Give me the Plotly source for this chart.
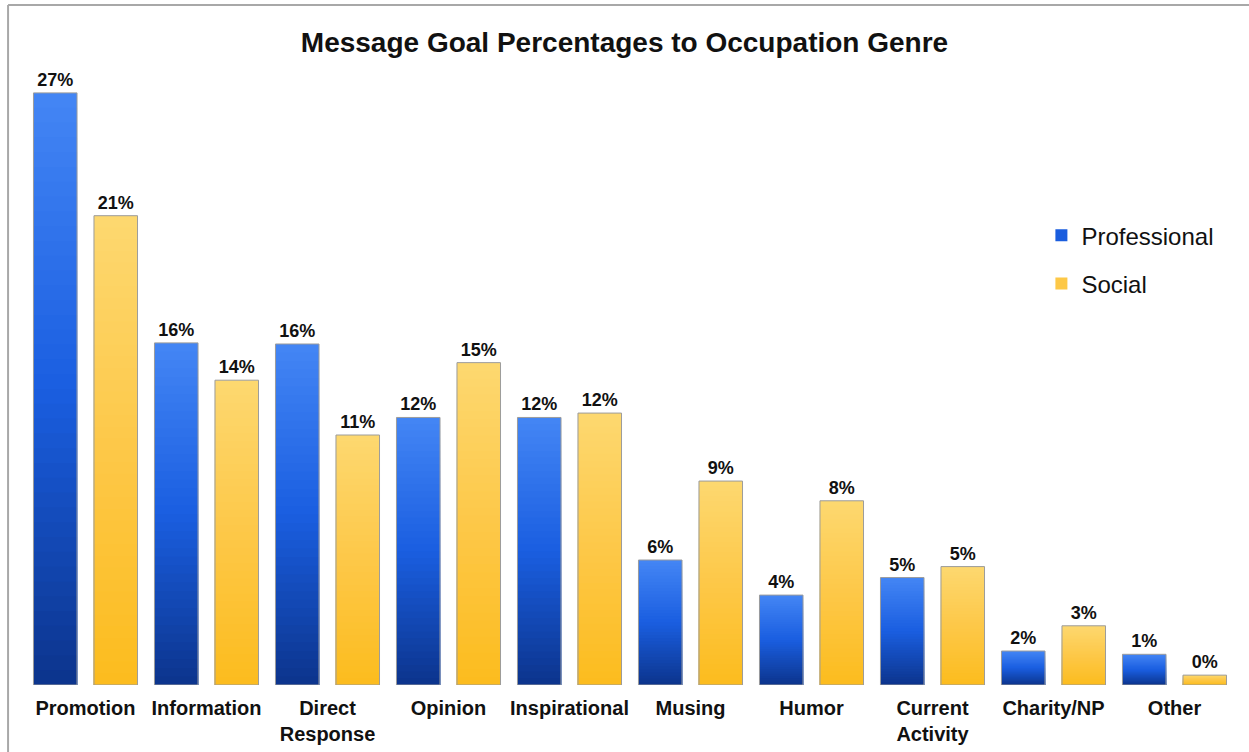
import plotly.graph_objects as go

# Message goal shares (%) for each occupation genre
CATEGORIES = ["Promotion", "Information", "Direct Response", "Opinion", "Inspirational",
              "Musing", "Humor", "Current Activity", "Charity/NP", "Other"]
TICK_LABELS = ["Promotion", "Information", "Direct<br>Response", "Opinion", "Inspirational",
               "Musing", "Humor", "Current<br>Activity", "Charity/NP", "Other"]
PROFESSIONAL = [27.0, 15.6, 15.55, 12.2, 12.2, 5.7, 4.1, 4.9, 1.55, 1.4]
SOCIAL = [21.4, 13.9, 11.4, 14.7, 12.4, 9.3, 8.4, 5.4, 2.7, 0.45]

FONT = "Liberation Sans, Arial, Helvetica, sans-serif"
N_BANDS = 40

# gradient stops from the bottom (0) to the top (1) of each bar
BLUE_STOPS = [(0.0, (12, 52, 140)), (0.5, (26, 94, 224)), (1.0, (68, 134, 245))]
GOLD_STOPS = [(0.0, (252, 188, 30)), (0.5, (253, 200, 72)), (1.0, (253, 216, 112))]


def blend(stops, f):
    for (f0, c0), (f1, c1) in zip(stops[:-1], stops[1:]):
        if f <= f1:
            t = (f - f0) / (f1 - f0)
            return "rgb({},{},{})".format(*[round(a + (b - a) * t) for a, b in zip(c0, c1)])
    return "rgb({},{},{})".format(*stops[-1][1])


fig = go.Figure()

series = [("Professional", PROFESSIONAL, BLUE_STOPS, "pro"),
          ("Social", SOCIAL, GOLD_STOPS, "soc")]

# gradient fill: nested bars from the full height down, each shorter one
# drawn over the previous, so every bar shades from light (top) to dark (bottom)
for name, values, stops, group in series:
    for k in range(N_BANDS):
        frac_top = (N_BANDS - k) / N_BANDS
        f = (N_BANDS - k - 0.5) / N_BANDS
        is_legend = k == N_BANDS // 2
        fig.add_trace(go.Bar(
            x=CATEGORIES,
            y=[v * frac_top for v in values],
            offsetgroup=group,
            marker=dict(color=blend(stops, f), line=dict(width=0)),
            name=name,
            showlegend=is_legend,
            legendgroup=group if is_legend else None,
            hoverinfo="skip",
        ))

# outlines and value labels on top of the gradient
for name, values, stops, group in series:
    fig.add_trace(go.Bar(
        x=CATEGORIES,
        y=values,
        offsetgroup=group,
        marker=dict(color="rgba(0,0,0,0)", line=dict(color="#9c9c9c", width=1)),
        texttemplate="%{y:.0f}%",
        textposition="outside",
        constraintext="none",
        cliponaxis=False,
        textfont=dict(family=FONT, size=18, color="#111111", weight="bold"),
        name=name,
        showlegend=False,
    ))

fig.update_layout(
    width=1249, height=752,
    margin=dict(l=25, r=14, t=60, b=67),
    paper_bgcolor="white", plot_bgcolor="white",
    barmode="group", bargap=0.0, bargroupgap=0.28,
    font=dict(family=FONT, color="#111111"),
    title=dict(text="Message Goal Percentages to Occupation Genre",
               x=0.5, xanchor="center", y=1 - 42 / 752, yanchor="middle",
               font=dict(family=FONT, size=28, color="#111111", weight="bold")),
    legend=dict(x=0.84, y=0.755, xanchor="left", yanchor="top",
                traceorder="grouped", tracegroupgap=14,
                font=dict(family=FONT, size=24, color="#111111"),
                bgcolor="rgba(0,0,0,0)"),
    xaxis=dict(tickvals=CATEGORIES, ticktext=TICK_LABELS, range=[-0.5, 9.5],
               showline=False, showgrid=False, ticks="", ticklabelstandoff=9,
               automargin=False,
               tickfont=dict(family=FONT, size=20, color="#111111", weight="bold")),
    yaxis=dict(range=[0, 28.5], showgrid=False, zeroline=False, automargin=False,
               showticklabels=False, showline=False, ticks=""),
    shapes=[dict(type="line", xref="paper", yref="paper",
                 x0=-0.014, y0=-0.11, x1=-0.014, y1=1.088,
                 line=dict(color="#a8a8a8", width=2)),
            dict(type="line", xref="paper", yref="paper",
                 x0=-0.014, y0=1.088, x1=1.02, y1=1.088,
                 line=dict(color="#a8a8a8", width=2))],
)

fig.write_html("out.html")
